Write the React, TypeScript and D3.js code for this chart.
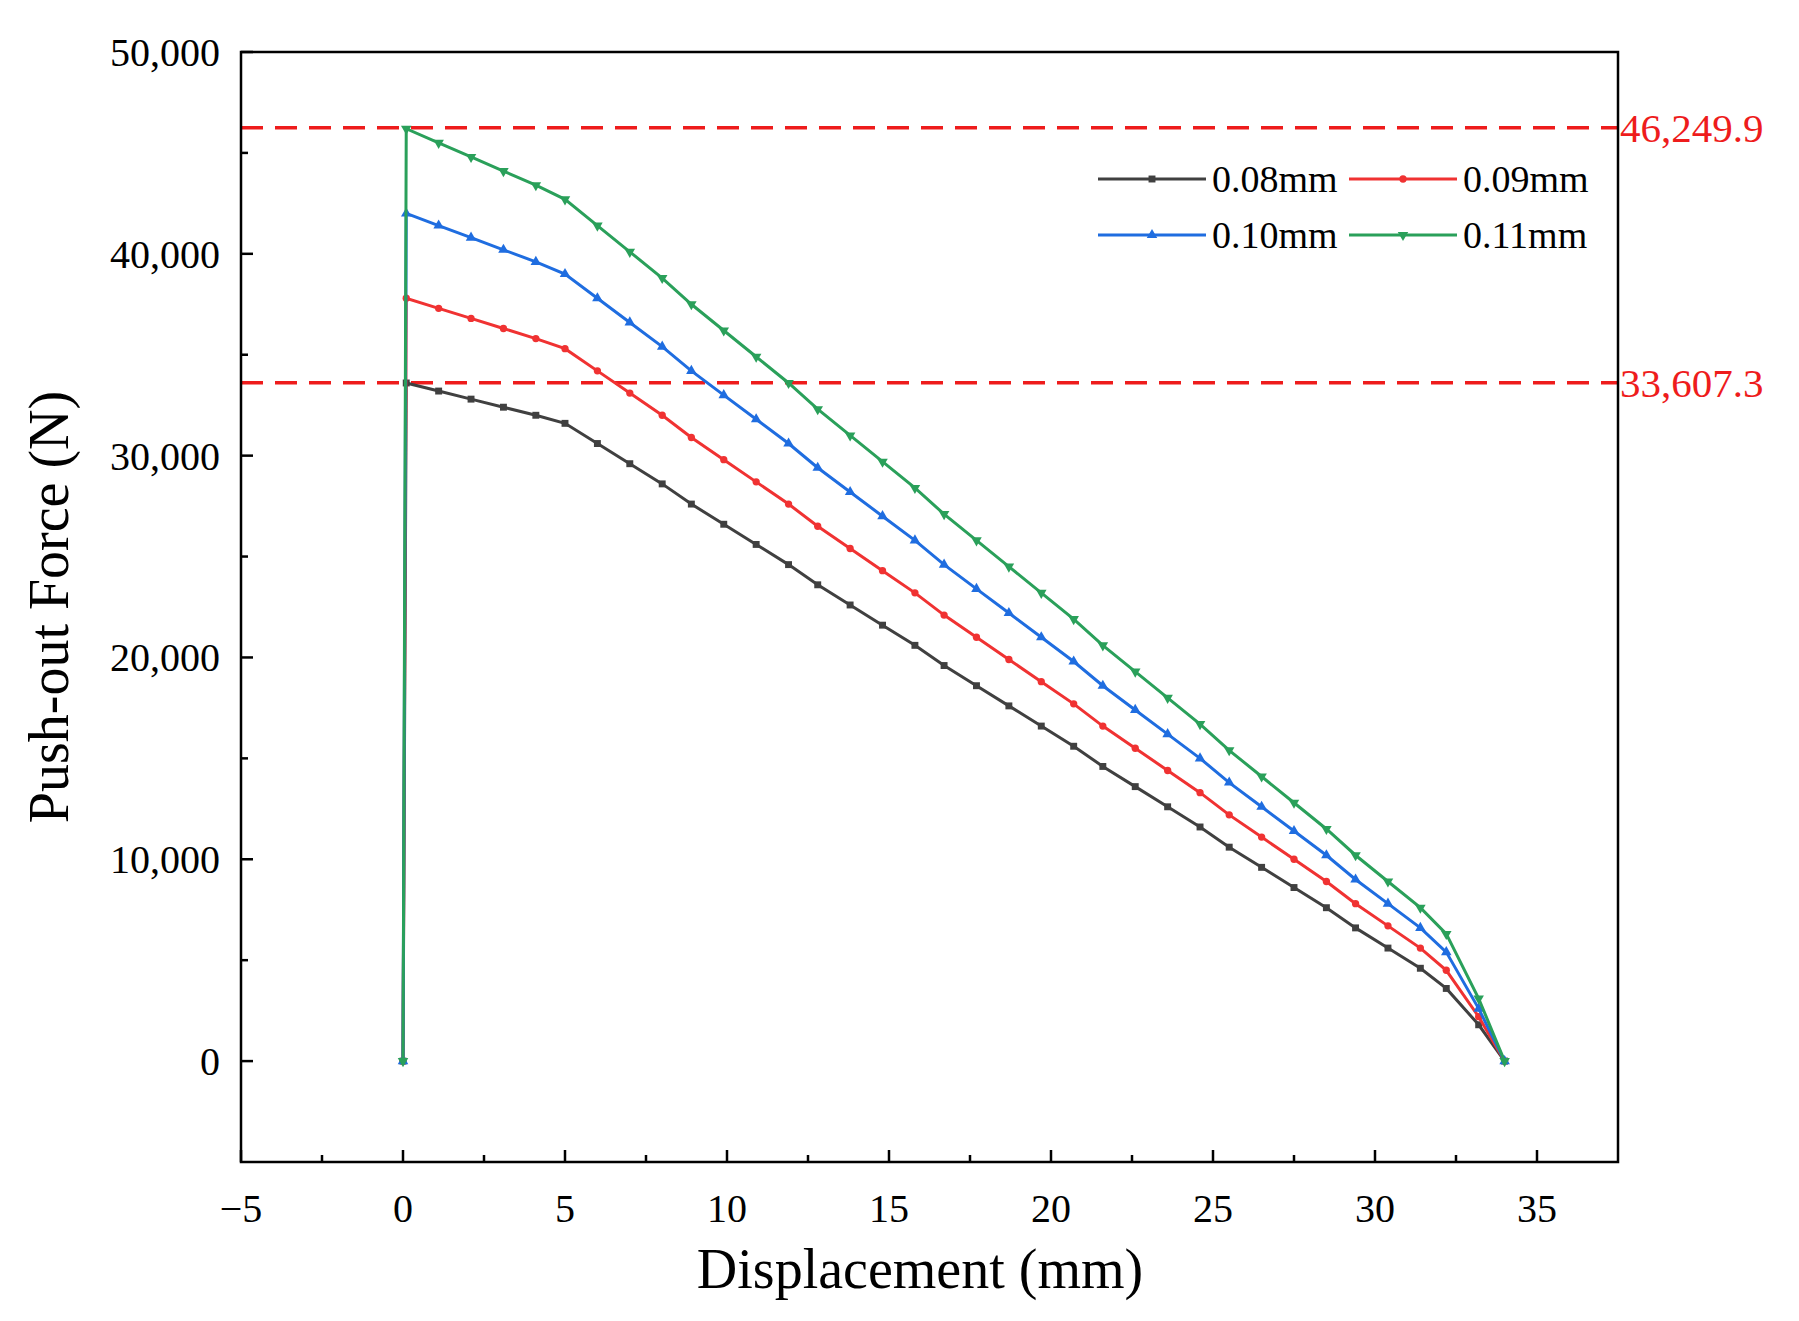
import * as d3 from 'd3'

const xs = [0, 0.1, 1.1, 2.1, 3.1, 4.1, 5.0, 6.0, 7.0, 8.0, 8.9, 9.9, 10.9, 11.9, 12.8, 13.8, 14.8, 15.8, 16.7, 17.7, 18.7, 19.7, 20.7, 21.6, 22.6, 23.6, 24.6, 25.5, 26.5, 27.5, 28.5, 29.4, 30.4, 31.4, 32.2, 33.2, 34.0]
const s008 = [0, 33600, 33200, 32800, 32400, 32000, 31600, 30600, 29600, 28600, 27600, 26600, 25600, 24600, 23600, 22600, 21600, 20600, 19600, 18600, 17600, 16600, 15600, 14600, 13600, 12600, 11600, 10600, 9600, 8600, 7600, 6600, 5600, 4600, 3600, 1800, 0]
const s009 = [0, 37800, 37300, 36800, 36300, 35800, 35300, 34200, 33100, 32000, 30900, 29800, 28700, 27600, 26500, 25400, 24300, 23200, 22100, 21000, 19900, 18800, 17700, 16600, 15500, 14400, 13300, 12200, 11100, 10000, 8900, 7800, 6700, 5600, 4500, 2200, 0]
const s010 = [0, 42000, 41400, 40800, 40200, 39600, 39000, 37800, 36600, 35400, 34200, 33000, 31800, 30600, 29400, 28200, 27000, 25800, 24600, 23400, 22200, 21000, 19800, 18600, 17400, 16200, 15000, 13800, 12600, 11400, 10200, 9000, 7800, 6600, 5400, 2600, 0]
const s011 = [0, 46200, 45500, 44800, 44100, 43400, 42700, 41400, 40100, 38800, 37500, 36200, 34900, 33600, 32300, 31000, 29700, 28400, 27100, 25800, 24500, 23200, 21900, 20600, 19300, 18000, 16700, 15400, 14100, 12800, 11500, 10200, 8900, 7600, 6300, 3100, 0]
const seriesNames = ['0.08mm', '0.09mm', '0.10mm', '0.11mm']
const refLines = [46249.9, 33607.3]
const refLabels = ['46,249.9', '33,607.3']

const colors = ['#404040', '#f03232', '#1f6de0', '#2aa05a']
const symbols = [d3.symbolSquare, d3.symbolCircle, d3.symbolTriangle, d3.symbolTriangle]
const font = '"Liberation Serif", "DejaVu Serif", serif'

export default function App() {
  const W = 1799, H = 1321
  const L = 241, R = 1618, T = 52, B = 1162
  const x = d3.scaleLinear().domain([-5, 37.5]).range([L, R])
  const y = d3.scaleLinear().domain([-5000, 50000]).range([B, T])
  const all = [s008, s009, s010, s011]
  const line = d3.line<number>().x((_, i) => x(xs[i])).y(d => y(d))
  const xMaj = d3.range(-5, 36, 5)
  const xMin = d3.range(-2.5, 37.5, 5)
  const yMaj = d3.range(0, 50001, 10000)
  const yMin = d3.range(5000, 50000, 10000)
  const legend = [
    { i: 0, lx: 1098, ty: 179 }, { i: 1, lx: 1349, ty: 179 },
    { i: 2, lx: 1098, ty: 235 }, { i: 3, lx: 1349, ty: 235 },
  ]
  const marker = (k: number, cx: number, cy: number, key: any) => {
    const sym = d3.symbol().type(symbols[k]).size(k === 1 ? 42 : 48)
    const rot = k === 3 ? ' rotate(180)' : ''
    return <path key={key} d={sym()!} transform={`translate(${cx},${cy})${rot}`} fill={colors[k]} />
  }
  return (
    <svg width={W} height={H} style={{ position: 'absolute', left: 0, top: 0, background: '#fff' }} fontFamily={font}>
      {refLines.map((v, i) => (
        <g key={i}>
          <line x1={L} x2={R} y1={y(v)} y2={y(v)} stroke="#ee1c1c" strokeWidth={3.5} strokeDasharray="22 12" />
          <text x={R + 2} y={y(v)} dy="0.35em" fill="#ee1c1c" fontSize={41}>{refLabels[i]}</text>
        </g>
      ))}
      {all.map((s, k) => (
        <g key={k}>
          <path d={line(s)!} fill="none" stroke={colors[k]} strokeWidth={3} />
          {s.map((v, i) => marker(k, x(xs[i]), y(v), i))}
        </g>
      ))}
      <rect x={L} y={T} width={R - L} height={B - T} fill="none" stroke="#000" strokeWidth={2.5} />
      {xMaj.map(v => (
        <g key={v}>
          <line x1={x(v)} x2={x(v)} y1={B} y2={B - 12} stroke="#000" strokeWidth={2.5} />
          <text x={x(v)} y={1222} textAnchor="middle" fontSize={40}>{v < 0 ? '\u2212' + -v : v}</text>
        </g>
      ))}
      {xMin.map(v => <line key={v} x1={x(v)} x2={x(v)} y1={B} y2={B - 7} stroke="#000" strokeWidth={2.5} />)}
      {yMaj.map(v => (
        <g key={v}>
          <line x1={L} x2={L + 12} y1={y(v)} y2={y(v)} stroke="#000" strokeWidth={2.5} />
          <text x={220} y={y(v)} dy="0.35em" textAnchor="end" fontSize={40}>{d3.format(',')(v)}</text>
        </g>
      ))}
      {yMin.map(v => <line key={v} x1={L} x2={L + 7} y1={y(v)} y2={y(v)} stroke="#000" strokeWidth={2.5} />)}
      <text x={920} y={1288} textAnchor="middle" fontSize={56}>Displacement (mm)</text>
      <text transform={`translate(68,607) rotate(-90)`} textAnchor="middle" fontSize={56}>Push-out Force (N)</text>
      {legend.map(({ i, lx, ty }) => (
        <g key={i}>
          <line x1={lx} x2={lx + 108} y1={ty} y2={ty} stroke={colors[i]} strokeWidth={3} />
          {marker(i, lx + 54, ty, 'm')}
          <text x={lx + 114} y={ty} dy="0.35em" fontSize={38}>{seriesNames[i]}</text>
        </g>
      ))}
    </svg>
  )
}
